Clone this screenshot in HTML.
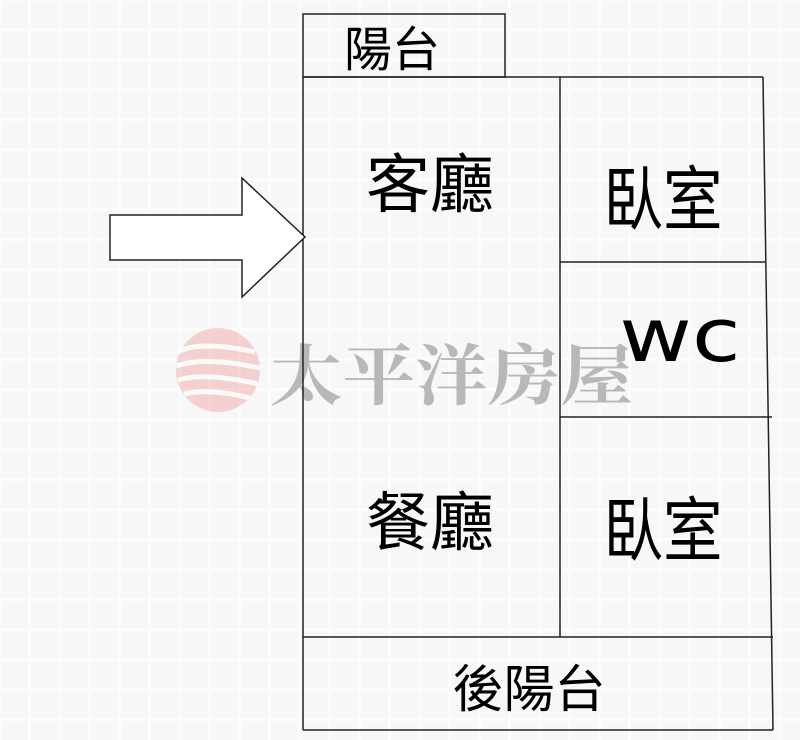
<!DOCTYPE html>
<html><head><meta charset="utf-8"><style>
html,body{margin:0;padding:0;background:#fff;}
svg{display:block}
text{font-family:"Liberation Sans","Noto Sans CJK TC",sans-serif;fill:#000}
</style></head><body>
<svg width="800" height="740" viewBox="0 0 800 740" xmlns="http://www.w3.org/2000/svg">
<defs>
<pattern id="g" width="30" height="30" patternUnits="userSpaceOnUse">
<rect width="30" height="30" fill="#fcfcfc"/>
<rect x="1" y="1" width="27" height="27" fill="#f7f7f7"/>
</pattern>
</defs>
<rect width="800" height="740" fill="url(#g)"/>
<g opacity="0.35">
<circle cx="218" cy="370" r="42" fill="#e88"/>
<path d="M178 352 Q200 340 255 352 M176 366 Q205 356 260 368 M178 380 Q205 372 258 384 M184 394 Q210 388 250 398" stroke="#fff" stroke-width="5" fill="none"/>
</g>
<g transform="translate(270,399) scale(1.1,1)"><text x="0" y="0" font-size="66" font-weight="bold" style="fill:#b8b8b8;font-family:'Noto Serif CJK SC','Noto Sans CJK TC',serif">太平洋房屋</text></g>
<g stroke="#222" stroke-width="1.5" fill="none">
<rect x="303" y="14" width="202" height="63"/>
<line x1="303" y1="77" x2="763" y2="77"/>
<line x1="303" y1="77" x2="303" y2="730"/>
<line x1="763" y1="77" x2="773" y2="730"/>
<line x1="560" y1="77" x2="560" y2="637"/>
<line x1="560" y1="262" x2="765" y2="262"/>
<line x1="560" y1="417" x2="772" y2="417"/>
<line x1="303" y1="637" x2="773" y2="637"/>
<line x1="303" y1="730" x2="773" y2="730"/>
<polygon points="110,215 242,215 242,178 305,237 242,297 242,260 110,260" fill="#fff"/>
</g>
<text x="392" y="66" font-size="48" text-anchor="middle">陽台</text>
<text x="430" y="207" font-size="64" text-anchor="middle">客廳</text>
<text x="430" y="545" font-size="64" text-anchor="middle">餐廳</text>
<g transform="translate(663,224) scale(0.85,1)"><text x="0" y="0" font-size="70" text-anchor="middle">臥室</text></g>
<g transform="translate(663,555) scale(0.85,1)"><text x="0" y="0" font-size="70" text-anchor="middle">臥室</text></g>
<g transform="translate(680,361) scale(1.2,1)"><text x="0" y="0" font-size="74" text-anchor="middle" style="font-family:'DejaVu Sans',sans-serif">wc</text></g>
<text x="529" y="707" font-size="51" text-anchor="middle">後陽台</text>
</svg>
</body></html>
